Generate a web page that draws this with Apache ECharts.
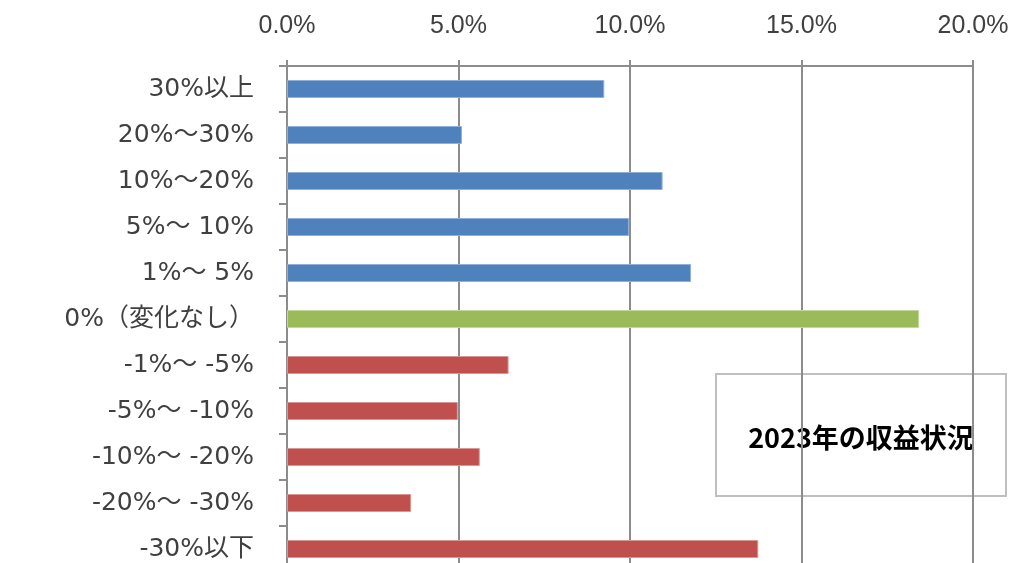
<!DOCTYPE html>
<html>
<head>
<meta charset="utf-8">
<script src="https://cdn.jsdelivr.net/npm/echarts@6/dist/echarts.min.js"></script>
<style>
html,body{margin:0;padding:0;background:#fff;overflow:hidden;width:1024px;height:563px;}
#chart{width:1024px;height:572px;}
</style>
</head>
<body>
<div id="chart"></div>
<script>
const categories = ['30%以上','20%～30%','10%～20%','5%～ 10%','1%～ 5%','0%（変化なし）','-1%～ -5%','-5%～ -10%','-10%～ -20%','-20%～ -30%','-30%以下'];
const values = [9.25, 5.1, 10.95, 9.97, 11.78, 18.43, 6.46, 4.98, 5.62, 3.62, 13.74];
const groups = ['up','up','up','up','up','flat','down','down','down','down','down'];
const xTicks = [0, 5, 10, 15, 20];
const boxTitle = '2023年の収益状況';

const groupColors = {up:'#4F81BD', flat:'#9BBB59', down:'#C0504D'};
const groupBorders = {up:'#8FB0DA', flat:'#C3D69B', down:'#D99694'};

const chart = echarts.init(document.getElementById('chart'));
chart.setOption({
  animation:false,
  backgroundColor:'#fff',
  grid:{left:287, right:51, top:66, bottom:0, containLabel:false},
  xAxis:{
    type:'value', position:'top', min:xTicks[0], max:xTicks[xTicks.length-1], interval:xTicks[1]-xTicks[0],
    axisLine:{show:true, lineStyle:{color:'#8c8c8c', width:2}},
    axisTick:{show:true, length:6, lineStyle:{color:'#8c8c8c', width:2}},
    splitLine:{show:true, lineStyle:{color:'#8c8c8c', width:2}},
    axisLabel:{formatter:v=>v.toFixed(1)+'%', color:'#404040', fontSize:25, fontFamily:'Liberation Sans', margin:27}
  },
  yAxis:{
    type:'category', data:categories, inverse:true,
    axisLine:{show:true, lineStyle:{color:'#8c8c8c', width:2}},
    axisTick:{show:true, length:8, lineStyle:{color:'#8c8c8c', width:2}},
    axisLabel:{color:'#404040', fontSize:25, fontFamily:'"DejaVu Sans", "Noto Sans CJK JP"', margin:33}
  },
  series:[{
    type:'bar', barWidth:18,
    data:values.map((v,i)=>({value:v, itemStyle:{color:groupColors[groups[i]], borderColor:groupBorders[groups[i]], borderWidth:1}}))
  }],
  graphic:[{
    type:'group', left:715, top:373, z:100,
    children:[
      {type:'rect', shape:{x:0,y:0,width:290,height:122}, style:{fill:'#fff', stroke:'#bfbfbf', lineWidth:2}},
      {type:'text', x:145, y:64, style:{text:boxTitle, fill:'#000', font:'bold 27px "Noto Sans CJK JP"', align:'center', verticalAlign:'middle'}}
    ]
  }]
});
</script>
</body>
</html>
